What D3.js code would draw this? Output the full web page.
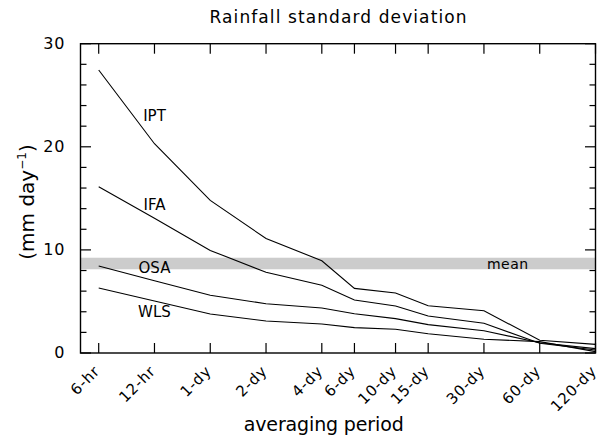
<!DOCTYPE html>
<html><head><meta charset="utf-8">
<script src="https://cdn.jsdelivr.net/npm/d3@7"></script>
<style>
html,body{margin:0;padding:0;background:#fff;}
text{font-family:"DejaVu Sans",sans-serif;fill:#000;}
</style></head>
<body>
<svg id="chart" width="600" height="436"></svg>
<script>
// ---- data ----
const categories = ["6-hr","12-hr","1-dy","2-dy","4-dy","6-dy","10-dy","15-dy","30-dy","60-dy","120-dy"];
const hours = [6,12,24,48,96,144,240,360,720,1440,2880];
const IPT = [27.45,20.3,14.8,11.1,8.95,6.27,5.82,4.59,4.1,1.23,0.84];
const IFA = [16.13,13.06,9.95,7.83,6.57,5.14,4.56,3.59,2.88,0.94,0.29];
const OSA = [8.44,7.01,5.6,4.78,4.36,3.8,3.33,2.75,2.16,1.0,0.42];
const WLS = [6.3,5.04,3.78,3.1,2.81,2.46,2.3,1.87,1.33,1.1,0.13];
const seriesNames = ["IPT","IFA","OSA","WLS"];
const meanBand = [8.12, 9.24];
const yTicksMajor = [0,10,20,30];
const yTicksMinor = d3.range(0,31,2);

const series = [IPT,IFA,OSA,WLS];
// label anchor points (hours, value)
const labelPos = [[12,22.9],[12,14.3],[12,8.15],[12,3.9]];
const meanLabelPos = [968, 8.55];

const svg = d3.select("#chart");
const L = 80.5, R = 595.5, T = 43.7, B = 353;
const x = d3.scaleLog().domain([6,2880]).range([98.7,595.5]);
const y = d3.scaleLinear().domain([0,30]).range([B,T]);

// mean band
svg.append("rect")
  .attr("x", L).attr("width", R-L)
  .attr("y", y(meanBand[1])).attr("height", y(meanBand[0])-y(meanBand[1]))
  .attr("fill","#cccccc");

svg.append("text")
  .attr("x", x(meanLabelPos[0])).attr("y", y(meanLabelPos[1]))
  .attr("text-anchor","middle").attr("dominant-baseline","middle")
  .style("font-size","14px").style("letter-spacing","0.5px").text("mean");

// lines
const line = d3.line().x((d,i)=>x(hours[i])).y(d=>y(d));
series.forEach(s=>{
  svg.append("path").datum(s).attr("d",line)
    .attr("fill","none").attr("stroke","#000").attr("stroke-width",1.1);
});

// series labels
seriesNames.forEach((n,i)=>{
  svg.append("text")
    .attr("x", x(labelPos[i][0])).attr("y", y(labelPos[i][1]))
    .attr("text-anchor","middle").attr("dominant-baseline","middle")
    .style("font-size","15px").text(n);
});

// frame
svg.append("rect").attr("x",L).attr("y",T).attr("width",R-L).attr("height",B-T)
  .attr("fill","none").attr("stroke","#000").attr("stroke-width",1.4);

// x ticks (bottom + top)
const gx = svg.append("g").attr("stroke","#000").attr("stroke-width",1.2);
hours.forEach(h=>{
  gx.append("line").attr("x1",x(h)).attr("x2",x(h)).attr("y1",B).attr("y2",B-10);
  gx.append("line").attr("x1",x(h)).attr("x2",x(h)).attr("y1",T).attr("y2",T+10);
});
// y ticks (left + right)
yTicksMinor.forEach(v=>{
  const len = yTicksMajor.includes(v) ? 10.5 : 6;
  gx.append("line").attr("x1",L).attr("x2",L+len).attr("y1",y(v)).attr("y2",y(v));
  gx.append("line").attr("x1",R).attr("x2",R-len).attr("y1",y(v)).attr("y2",y(v));
});

// x tick labels
categories.forEach((c,i)=>{
  const px = x(hours[i]) + 2, py = B + 19;
  svg.append("text")
    .attr("transform",`translate(${px},${py}) rotate(-45)`)
    .attr("text-anchor","end")
    .style("font-size","15px").style("letter-spacing","0.8px").text(c);
});
// y tick labels
yTicksMajor.forEach(v=>{
  svg.append("text").attr("x",65.5).attr("y",y(v)+0.5)
    .attr("text-anchor","end").attr("dominant-baseline","middle")
    .style("font-size","16px").style("letter-spacing","1px").text(v);
});

// title
svg.append("text").attr("x",338).attr("y",22.5).attr("text-anchor","middle")
  .style("font-size","17px").attr("textLength",257).attr("lengthAdjust","spacing")
  .text("Rainfall standard deviation");
// x axis title
svg.append("text").attr("x",323.7).attr("y",431).attr("text-anchor","middle")
  .style("font-size","19px").attr("textLength",160).attr("lengthAdjust","spacing")
  .text("averaging period");
// y axis title
const yt = svg.append("text")
  .attr("transform","translate(34,202) rotate(-90)")
  .attr("text-anchor","middle").style("font-size","20px");
yt.append("tspan").text("(mm day");
yt.append("tspan").attr("dy",-8).style("font-size","12px").text("−1");
yt.append("tspan").attr("dy",8).text(")");
</script>
</body></html>
